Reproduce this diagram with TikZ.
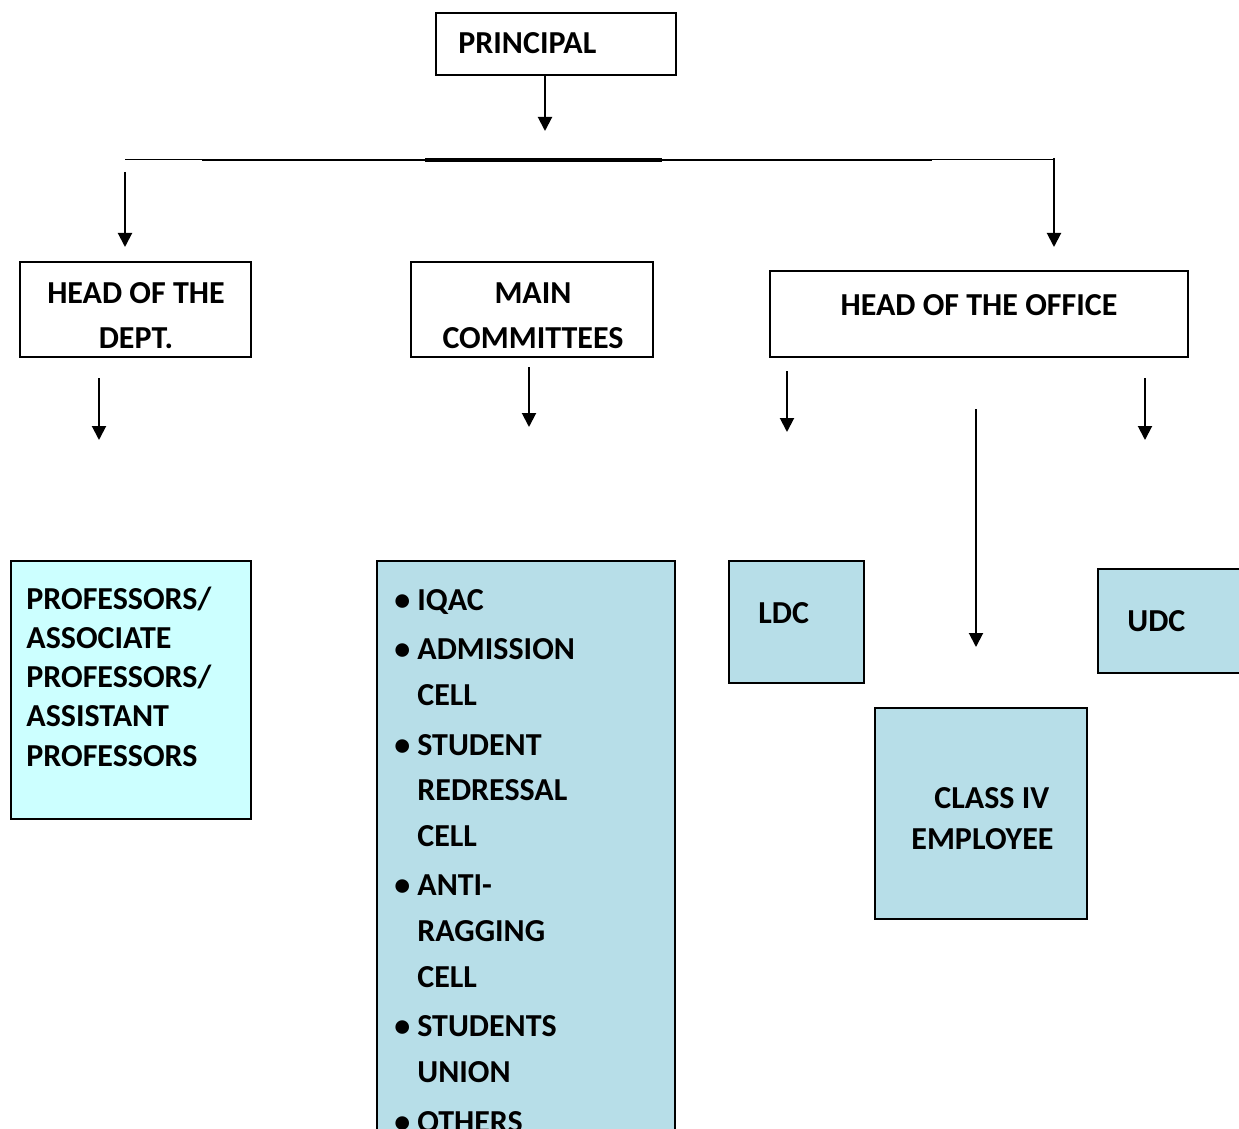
\documentclass[tikz,border=0pt]{standalone}
\usepackage{fontspec}
\setmainfont{Carlito}
\usetikzlibrary{arrows.meta}
\definecolor{paleCyan}{HTML}{CCFFFF}
\definecolor{paleBlue}{HTML}{B7DEE8}
\newcommand{\bul}[1]{\makebox[11.5pt][l]{\textbullet}#1}
\newcommand{\cont}[1]{\hspace*{11.5pt}#1}

\begin{document}
\begin{tikzpicture}[x=0.5pt, y=-0.5pt,
  box/.style={draw, line width=0.9pt, inner sep=0pt},
  lbl/.style={font=\bfseries\fontsize{16}{22.5}\selectfont, inner sep=0pt},
  arr/.style={-{Triangle[length=7pt,width=7pt]}, line width=1pt}]
  \useasboundingbox (0,0) rectangle (1239,1129);
  \clip (0,0) rectangle (1239,1129);

  % boxes
  \node[box, minimum width=120pt, minimum height=31pt] (principal) at (556,44) {};
  \node[box, minimum width=115.5pt, minimum height=47.5pt] (dept) at (135.5,309.5) {};
  \node[box, minimum width=121pt, minimum height=47.5pt] (committees) at (532,309.5) {};
  \node[box, minimum width=209pt, minimum height=43pt] (office) at (979,314) {};
  \node[box, fill=paleCyan, minimum width=120pt, minimum height=129pt] (prof) at (131,690) {};
  \node[box, fill=paleBlue, minimum width=149pt, minimum height=287pt] (list) at (526,848) {};
  \node[box, fill=paleBlue, minimum width=67.5pt, minimum height=61pt] (ldc) at (796.5,622) {};
  \node[box, fill=paleBlue, minimum width=75pt, minimum height=52pt] (udc) at (1173,621) {};
  \node[box, fill=paleBlue, minimum width=106pt, minimum height=105.5pt] (classiv) at (981,813.5) {};

  % texts
  \node[lbl, anchor=base west] (tprincipal) at (458,54) {PRINCIPAL};
  \node[lbl, align=center] (tdept) at (136,315.5) {HEAD OF THE\\DEPT.};
  \node[lbl, align=center] (tcommittees) at (533,315.5) {MAIN\\COMMITTEES};
  \node[lbl, anchor=base] (toffice) at (979,315) {HEAD OF THE OFFICE};
  \node[lbl, align=left, anchor=west, font=\bfseries\fontsize{16}{19.6}\selectfont] (tprof) at (26,676.5)
    {PROFESSORS/\\ASSOCIATE\\PROFESSORS/\\ASSISTANT\\PROFESSORS};
  \node[lbl, align=left, anchor=north west, font=\bfseries\fontsize{16}{22.85}\selectfont] (tlist) at (394,589)
    {\bul{IQAC}\\[1.9pt]
     \bul{ADMISSION}\\\cont{CELL}\\[1.9pt]
     \bul{STUDENT}\\\cont{REDRESSAL}\\\cont{CELL}\\[1.9pt]
     \bul{ANTI-}\\\cont{RAGGING}\\\cont{CELL}\\[1.9pt]
     \bul{STUDENTS}\\\cont{UNION}\\[1.9pt]
     \bul{OTHERS}};
  \node[lbl, anchor=base west] (tldc) at (758,623) {LDC};
  \node[lbl, anchor=base west] (tudc) at (1127,631) {UDC};
  \node[lbl, align=left, anchor=west, font=\bfseries\fontsize{16}{20.5}\selectfont] (tclassiv) at (911,818.5)
    {\hspace*{11.5pt}CLASS IV\\EMPLOYEE};

  % branch line
  \coordinate (bl) at (125,160);
  \coordinate (br) at (1054,160);
  \coordinate (ml) at (202,160);
  \coordinate (mr) at (932,160);
  \coordinate (tl) at (425,160);
  \coordinate (tr) at (662,160);
  \draw[line width=0.5pt] (bl) -- (br);
  \draw[line width=1pt] (ml) -- (mr);
  \draw[line width=2pt] (tl) -- (tr);

  % arrows
  \coordinate (a0) at (545,75);   \coordinate (b0) at (545,131);
  \coordinate (a1) at (125,172);  \coordinate (b1) at (125,247);
  \coordinate (a2) at (1054,158); \coordinate (b2) at (1054,247);
  \coordinate (a3) at (99,378);   \coordinate (b3) at (99,440);
  \coordinate (a4) at (529,367);  \coordinate (b4) at (529,427);
  \coordinate (a5) at (787,371);  \coordinate (b5) at (787,432);
  \coordinate (a6) at (976,409);  \coordinate (b6) at (976,647);
  \coordinate (a7) at (1145,378); \coordinate (b7) at (1145,440);
  \foreach \i in {0,...,7}
    \draw[arr] (a\i) -- (b\i);
\end{tikzpicture}
\end{document}
